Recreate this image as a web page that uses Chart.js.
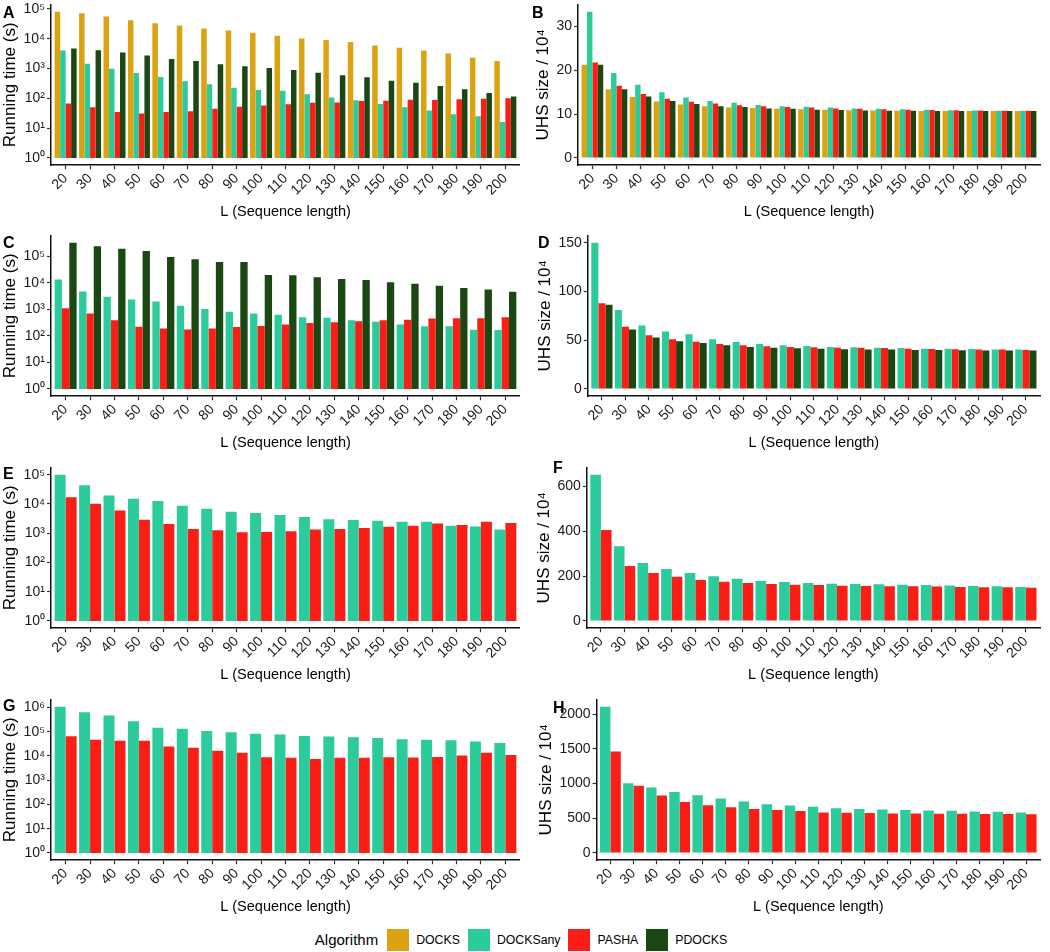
<!DOCTYPE html>
<html>
<head>
<meta charset="utf-8">
<title>UHS</title>
<script src="https://cdn.jsdelivr.net/npm/chart.js@4.4.1/dist/chart.umd.min.js"></script>
<style>
  body { margin: 0; width: 1050px; height: 952px; background: #fff; position: relative; overflow: hidden; font-family: "Liberation Sans", Arial, sans-serif; }
  canvas { position: absolute; }
  .letra { position: absolute; font-weight: bold; font-size: 16px; line-height: 1; color: #000; }
  #legenda { position: absolute; left: 0; top: 928px; width: 1050px; height: 23px; display: flex; justify-content: center; align-items: center; color: #000; }
  #legenda .titulo { font-size: 15px; margin-right: 9px; }
  #legenda .cor { width: 22px; height: 22px; margin-right: 7px; }
  #legenda .nome { font-size: 12.3px; margin-right: 8px; }
</style>
</head>
<body>
<canvas id="A" width="520" height="231" style="left:0;top:-6px"></canvas>
<canvas id="B" width="530" height="231" style="left:520px;top:-6px"></canvas>
<canvas id="C" width="520" height="231" style="left:0;top:225px"></canvas>
<canvas id="D" width="530" height="231" style="left:520px;top:225px"></canvas>
<canvas id="E" width="520" height="231" style="left:0;top:457px"></canvas>
<canvas id="F" width="530" height="231" style="left:520px;top:457px"></canvas>
<canvas id="G" width="520" height="231" style="left:0;top:689px"></canvas>
<canvas id="H" width="530" height="231" style="left:520px;top:689px"></canvas>

<div class="letra" style="left:3px;top:5px">A</div>
<div class="letra" style="left:532px;top:5px">B</div>
<div class="letra" style="left:3px;top:235px">C</div>
<div class="letra" style="left:538px;top:235px">D</div>
<div class="letra" style="left:3px;top:466px">E</div>
<div class="letra" style="left:553px;top:460px">F</div>
<div class="letra" style="left:3px;top:698px">G</div>
<div class="letra" style="left:553px;top:700px">H</div>

<div id="legenda"><span class="titulo">Algorithm</span></div>

<script>
/* DADOS */
var lengths = ["20","30","40","50","60","70","80","90","100","110","120","130","140","150","160","170","180","190","200"];
var algorithms = ["DOCKS", "DOCKSany", "PASHA", "PDOCKS"];

var logTicks = [1, 10, 100, 1000, 10000, 100000, 1000000];
var ticksB = [0, 10, 20, 30];
var ticksD = [0, 50, 100, 150];
var ticksF = [0, 200, 400, 600];
var ticksH = [0, 500, 1000, 1500, 2000];

// A - running time
var docksA  = [81000, 72000, 56000, 42000, 33000, 28000, 22000, 19000, 16000, 12600, 10300, 9100, 7800, 5900, 5000, 4000, 3200, 2300, 1800];
var anyA    = [4000, 1450, 990, 710, 520, 375, 295, 225, 192, 178, 138, 107, 87, 64, 50, 39, 29, 25, 16];
var pashaA  = [67, 50, 35, 31, 35, 37, 45, 52, 57, 63, 71, 73, 81, 83, 89, 88, 94, 96, 101];
var pdocksA = [4700, 4100, 3450, 2750, 2100, 1800, 1400, 1200, 1040, 890, 725, 600, 510, 390, 335, 260, 203, 152, 115];

// B - UHS size
var docksB  = [21.3, 15.7, 13.9, 12.9, 12.2, 11.8, 11.5, 11.4, 11.2, 11.1, 11.0, 10.9, 10.85, 10.8, 10.7, 10.7, 10.7, 10.7, 10.7];
var anyB    = [33.4, 19.4, 16.7, 15.0, 13.8, 13.0, 12.6, 12.1, 11.8, 11.7, 11.5, 11.3, 11.2, 11.1, 11.0, 10.9, 10.85, 10.8, 10.75];
var pashaB  = [21.8, 16.5, 14.6, 13.5, 12.8, 12.4, 12.0, 11.8, 11.6, 11.5, 11.3, 11.2, 11.1, 11.0, 10.95, 10.9, 10.85, 10.8, 10.75];
var pdocksB = [21.3, 15.7, 14.0, 13.0, 12.3, 11.8, 11.6, 11.3, 11.2, 11.0, 10.95, 10.85, 10.8, 10.75, 10.7, 10.7, 10.7, 10.7, 10.7];

// C
var anyC    = [13500, 4800, 3000, 2350, 2000, 1380, 1030, 820, 700, 635, 505, 480, 390, 340, 270, 230, 230, 170, 166];
var pashaC  = [1100, 700, 390, 220, 190, 175, 190, 215, 235, 270, 305, 330, 360, 390, 405, 455, 465, 465, 505];
var pdocksC = [330000, 240000, 195000, 160000, 95000, 78000, 62000, 62000, 20000, 19500, 16500, 14000, 12800, 10700, 9400, 7900, 6500, 5600, 4600];

// D
var anyD    = [150, 81, 65, 59, 56, 51, 48, 46, 44.7, 44, 43, 42.7, 42.3, 42, 41.3, 41.3, 41, 40.3, 40.3];
var pashaD  = [88, 63.7, 55, 51, 48.4, 46, 44.7, 43.7, 43, 42.7, 42.3, 42.3, 42, 41.3, 41, 40.6, 40.3, 40.3, 40];
var pdocksD = [86.3, 61, 52.8, 49, 47, 44.7, 43, 42.3, 41.7, 41.3, 40.6, 40.3, 40.3, 40, 39.8, 39.6, 39.5, 39.4, 39.3];

// E
var anyE    = [100000, 44000, 19600, 15000, 12600, 8700, 6900, 5400, 4900, 4150, 3550, 3000, 2800, 2650, 2450, 2450, 1800, 1700, 1330];
var pashaE  = [17000, 10200, 6000, 2900, 2050, 1400, 1260, 1080, 1100, 1170, 1330, 1400, 1500, 1670, 1800, 2130, 1900, 2460, 2230];

// F
var anyF    = [652, 333, 258, 231, 214, 199, 188, 178, 173, 169, 166, 164, 163, 161, 160, 158, 156, 154, 151];
var pashaF  = [405, 245, 214, 197, 182, 175, 169, 164, 161, 160, 157, 156, 154, 154, 153, 151, 150, 150, 148];

// G
var anyG    = [1070000, 630000, 460000, 270000, 145000, 132000, 107000, 94000, 83000, 76000, 66000, 63000, 59000, 55000, 49000, 46000, 44500, 39000, 34000];
var pashaG  = [65000, 46000, 42000, 42000, 24500, 21800, 16400, 13500, 8800, 8300, 7500, 8300, 8300, 8800, 8500, 9100, 10300, 13500, 10900];

// H
var anyH    = [2110, 1007, 945, 879, 831, 784, 741, 703, 684, 665, 646, 632, 627, 618, 613, 608, 599, 594, 584];
var pashaH  = [1463, 969, 827, 736, 689, 660, 632, 618, 603, 584, 580, 575, 570, 570, 565, 565, 561, 561, 556];
/* FIM DADOS */

var colors = { DOCKS: "#dba212", DOCKSany: "#2ccb9b", PASHA: "#fb1e16", PDOCKS: "#1b4713" };
var sup = "⁰¹²³⁴⁵⁶";

Chart.defaults.font.family = '"Liberation Sans", Arial, Helvetica, sans-serif';
Chart.defaults.color = "#1a1a1a";

function gridStyle() {
  return { display: true, drawOnChartArea: false, drawTicks: true, tickLength: 4, tickWidth: 1.2, tickColor: "#333", offset: false };
}
function borderStyle() {
  return { display: true, color: "#111", width: 1.5 };
}

function panel(id, names, series, yTicks, padLeft, padRight) {
  var isLog = yTicks === logTicks;
  var top = Math.max(...series.map(s => Math.max(...s)));
  var lo, hi;
  // same 5% expansion as ggplot
  if (isLog) {
    var e = Math.log10(top);
    lo = Math.pow(10, -0.05 * e);
    hi = Math.pow(10, 1.05 * e);
  } else {
    lo = -0.05 * top;
    hi = 1.05 * top;
  }

  var datasets = names.map((name, k) => ({
    label: name,
    data: series[k].map((v, i) => ({ x: i, y: isLog ? [1, v] : v })),
    backgroundColor: colors[name],
    borderWidth: 0,
    categoryPercentage: 0.9,
    barPercentage: 1
  }));

  new Chart(document.getElementById(id), {
    type: "bar",
    data: { datasets: datasets },
    options: {
      responsive: false,
      animation: false,
      layout: { padding: { left: padLeft, right: padRight, top: 0, bottom: 0 } },
      plugins: { legend: { display: false }, tooltip: { enabled: false } },
      scales: {
        x: {
          type: "linear",
          min: -0.6,
          max: lengths.length - 0.4,
          offset: false,
          afterBuildTicks: ax => { ax.ticks = lengths.map((l, i) => ({ value: i })); },
          ticks: { callback: v => lengths[v], minRotation: 45, maxRotation: 45, autoSkip: false, padding: 1, font: { size: 14 } },
          grid: gridStyle(),
          border: borderStyle(),
          title: { display: true, text: "L (Sequence length)", color: "#000", font: { size: 14.5 }, padding: { top: 4, bottom: 4 } }
        },
        y: {
          type: isLog ? "logarithmic" : "linear",
          min: lo,
          max: hi,
          beginAtZero: false,
          afterBuildTicks: ax => { ax.ticks = yTicks.filter(t => t <= hi).map(t => ({ value: t })); },
          ticks: {
            callback: v => isLog ? "10" + sup[Math.round(Math.log10(v))] : String(v),
            padding: 2,
            font: { size: 14 }
          },
          grid: gridStyle(),
          border: borderStyle(),
          title: { display: true, text: isLog ? "Running time (s)" : "UHS size / 10⁴", color: "#000", font: { size: 17 }, padding: { top: 0, bottom: 1 } }
        }
      }
    }
  });
}

panel("A", ["DOCKS", "DOCKSany", "PASHA", "PDOCKS"], [docksA, anyA, pashaA, pdocksA], logTicks, 0, 0);
panel("B", ["DOCKS", "DOCKSany", "PASHA", "PDOCKS"], [docksB, anyB, pashaB, pdocksB], ticksB, 13, 10);
panel("C", ["DOCKSany", "PASHA", "PDOCKS"], [anyC, pashaC, pdocksC], logTicks, 0, 0);
panel("D", ["DOCKSany", "PASHA", "PDOCKS"], [anyD, pashaD, pdocksD], ticksD, 15, 10);
panel("E", ["DOCKSany", "PASHA"], [anyE, pashaE], logTicks, 0, 0);
panel("F", ["DOCKSany", "PASHA"], [anyF, pashaF], ticksF, 14, 10);
panel("G", ["DOCKSany", "PASHA"], [anyG, pashaG], logTicks, 0, 0);
panel("H", ["DOCKSany", "PASHA"], [anyH, pashaH], ticksH, 16, 10);

/* LEGENDA */
var legenda = document.getElementById("legenda");
algorithms.forEach(name => {
  var cor = document.createElement("span");
  cor.className = "cor";
  cor.style.background = colors[name];
  var nome = document.createElement("span");
  nome.className = "nome";
  nome.textContent = name;
  legenda.appendChild(cor);
  legenda.appendChild(nome);
});
</script>
</body>
</html>
